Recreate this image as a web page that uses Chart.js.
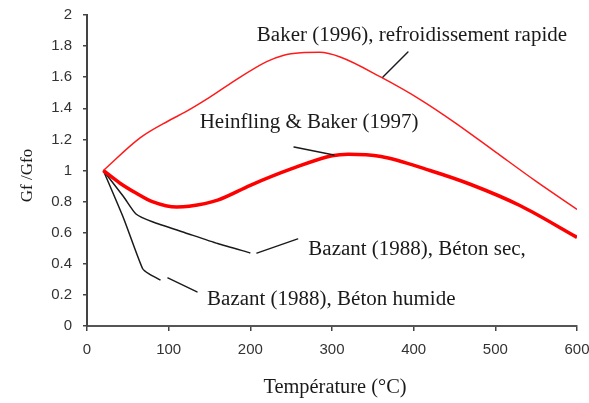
<!DOCTYPE html>
<html lang="fr">
<head>
<meta charset="utf-8">
<title>Gf/Gfo en fonction de la température</title>
<script src="https://cdn.jsdelivr.net/npm/chart.js@4.4.0/dist/chart.umd.min.js"></script>
<style>
  html, body { margin: 0; padding: 0; background: #fff; }
  #chart { display: block; }
</style>
</head>
<body>
<canvas id="chart" width="589" height="403"></canvas>
<script>
// ===== DONNÉES =====
const bakerTemp = [20, 65, 100, 120, 150, 180, 220, 240, 262, 285, 310, 360, 410, 450, 500, 550, 600];
const bakerGf   = [1, 1.21, 1.32, 1.375, 1.47, 1.575, 1.70, 1.74, 1.757, 1.76, 1.73, 1.60, 1.45, 1.31, 1.12, 0.93, 0.75];

const heinflingTemp = [20, 40, 60, 80, 110, 125, 160, 200, 250, 300, 320, 360, 420, 470, 530, 600];
const heinflingGf   = [1, 0.92, 0.855, 0.80, 0.765, 0.77, 0.81, 0.905, 1.01, 1.095, 1.105, 1.09, 1.0, 0.91, 0.775, 0.57];

const bazantSecTemp = [20, 45, 60, 80, 120, 160, 200];
const bazantSecGf   = [1, 0.83, 0.72, 0.67, 0.60, 0.53, 0.47];

const bazantHumideTemp = [20, 45, 68, 76, 90];
const bazantHumideGf   = [1, 0.69, 0.37, 0.335, 0.295];

// Graduations
const xTicks = [0, 100, 200, 300, 400, 500, 600];
const yTicks = [0, 0.2, 0.4, 0.6, 0.8, 1, 1.2, 1.4, 1.6, 1.8, 2];

// Étiquettes des courbes (ancrage en °C / Gf/Gfo)
const labelTexts = [
  'Baker (1996), refroidissement rapide',
  'Heinfling & Baker (1997)',
  'Bazant (1988), Béton sec,',
  'Bazant (1988), Béton humide'
];
const labelTemp = [208, 138, 271, 147];
const labelGf   = [1.833, 1.273, 0.457, 0.135];

// Traits de rappel : de (temp1, gf1) à (temp2, gf2)
const leaderTemp1 = [393, 253.5, 208, 99];
const leaderGf1   = [1.762, 1.151, 0.469, 0.309];
const leaderTemp2 = [362.4, 302.4, 258, 134.7];
const leaderGf2   = [1.601, 1.10, 0.56, 0.219];

const xTitle = 'Température (°C)';
const yTitle = 'Gf /Gfo';

// ===== OUTILS =====
function toPoints(xs, ys) {
  return xs.map(function(x, i) { return { x: x, y: ys[i] }; });
}

const serif = '"Liberation Serif", "Times New Roman", Times, serif';
const sans = '"Liberation Sans", Arial, Helvetica, sans-serif';

// ===== PLUGIN : étiquettes, traits de rappel, titres d'axes =====
const annotationsPlugin = {
  id: 'annotations',
  afterDatasetsDraw: function(chart) {
    const ctx = chart.ctx;
    const xs = chart.scales.x;
    const ys = chart.scales.y;
    const area = chart.chartArea;

    ctx.save();
    ctx.strokeStyle = '#1a1a1a';
    ctx.lineWidth = 1.4;
    ctx.lineCap = 'round';
    leaderTemp1.forEach(function(t, i) {
      ctx.beginPath();
      ctx.moveTo(xs.getPixelForValue(t), ys.getPixelForValue(leaderGf1[i]));
      ctx.lineTo(xs.getPixelForValue(leaderTemp2[i]), ys.getPixelForValue(leaderGf2[i]));
      ctx.stroke();
    });

    ctx.fillStyle = '#1a1a1a';
    ctx.textBaseline = 'alphabetic';
    ctx.textAlign = 'left';
    ctx.font = '20px ' + serif;
    labelTexts.forEach(function(text, i) {
      ctx.save();
      ctx.translate(xs.getPixelForValue(labelTemp[i]), ys.getPixelForValue(labelGf[i]));
      ctx.scale(1.05, 1);
      ctx.fillText(text, 0, 0);
      ctx.restore();
    });

    // titre de l'axe X
    ctx.save();
    ctx.translate((area.left + area.right) / 2 + 3, area.bottom + 67);
    ctx.scale(1.02, 1);
    ctx.textAlign = 'center';
    ctx.fillText(xTitle, 0, 0);
    ctx.restore();

    // titre de l'axe Y
    ctx.save();
    ctx.font = '17px ' + serif;
    ctx.translate(32, (area.top + area.bottom) / 2 + 5);
    ctx.rotate(-Math.PI / 2);
    ctx.textAlign = 'center';
    ctx.fillText(yTitle, 0, 0);
    ctx.restore();

    ctx.restore();
  }
};

// ===== GRAPHIQUE =====
const ctx = document.getElementById('chart');

new Chart(ctx, {
  type: 'line',
  data: {
    datasets: [
      {
        label: 'Baker (1996)',
        data: toPoints(bakerTemp, bakerGf),
        borderColor: '#ff1a1a',
        borderWidth: 1.5,
        cubicInterpolationMode: 'monotone',
        pointRadius: 0,
        fill: false
      },
      {
        label: 'Heinfling & Baker (1997)',
        data: toPoints(heinflingTemp, heinflingGf),
        borderColor: '#ff0000',
        borderWidth: 3.5,
        cubicInterpolationMode: 'monotone',
        pointRadius: 0,
        fill: false
      },
      {
        label: 'Bazant (1988), Béton sec',
        data: toPoints(bazantSecTemp, bazantSecGf),
        borderColor: '#1a1a1a',
        borderWidth: 1.5,
        tension: 0.2,
        pointRadius: 0,
        fill: false
      },
      {
        label: 'Bazant (1988), Béton humide',
        data: toPoints(bazantHumideTemp, bazantHumideGf),
        borderColor: '#1a1a1a',
        borderWidth: 1.5,
        tension: 0.2,
        pointRadius: 0,
        fill: false
      }
    ]
  },
  options: {
    responsive: false,
    animation: false,
    devicePixelRatio: 1,
    layout: { padding: { top: 15, right: 12, left: 0, bottom: 0 } },
    plugins: {
      legend: { display: false },
      tooltip: { enabled: false }
    },
    scales: {
      x: {
        type: 'linear',
        min: xTicks[0],
        max: xTicks[xTicks.length - 1],
        afterFit: function(scale) {
          scale.height = 77;
          scale.paddingLeft = 0;
          scale.paddingRight = 0;
        },
        afterBuildTicks: function(scale) {
          scale.ticks = xTicks.map(function(v) { return { value: v }; });
        },
        ticks: {
          color: '#333',
          font: { family: sans, size: 15 },
          padding: 10,
          maxRotation: 0
        },
        grid: { drawOnChartArea: false, color: '#444', tickLength: 5, lineWidth: 1.5 },
        border: { color: '#555', width: 2 }
      },
      y: {
        type: 'linear',
        min: yTicks[0],
        max: yTicks[yTicks.length - 1],
        afterFit: function(scale) {
          scale.width = 87;
          scale.paddingTop = 0;
          scale.paddingBottom = 0;
        },
        afterBuildTicks: function(scale) {
          scale.ticks = yTicks.map(function(v) { return { value: v }; });
        },
        ticks: {
          color: '#333',
          font: { family: sans, size: 15 },
          padding: 11,
          callback: function(value) { return String(Number(value.toFixed(1))); }
        },
        grid: { drawOnChartArea: false, color: '#444', tickLength: 4, lineWidth: 1.5 },
        border: { color: '#444', width: 2 }
      }
    }
  },
  plugins: [annotationsPlugin]
});
</script>
</body>
</html>
